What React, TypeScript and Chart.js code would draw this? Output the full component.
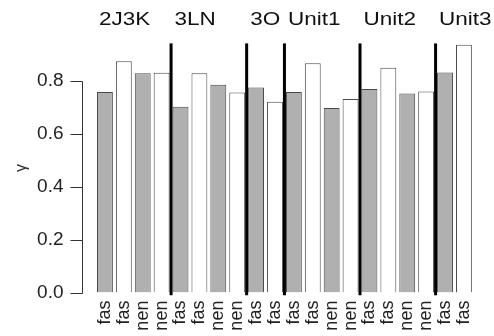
import React, { useEffect, useRef } from 'react';
import { Chart, registerables } from 'chart.js';

Chart.register(...registerables);

// ---- data ----
const categories = [
  'fas', 'fas', 'nen', 'nen',
  'fas', 'fas', 'nen', 'nen',
  'fas', 'fas',
  'fas', 'fas', 'nen', 'nen',
  'fas', 'fas', 'nen', 'nen',
  'fas', 'fas',
];
const gammaValues = [
  0.757, 0.873, 0.827, 0.829,
  0.701, 0.827, 0.784, 0.755,
  0.774, 0.720,
  0.757, 0.865, 0.696, 0.730,
  0.768, 0.848, 0.751, 0.759,
  0.830, 0.935,
];
const groupNames = ['2J3K', '3LN', '3O', 'Unit1', 'Unit2', 'Unit3'];
const groupSizes = [4, 4, 2, 4, 4, 2];
const yTicks = [0, 0.2, 0.4, 0.6, 0.8];
const yAxisTitle = 'γ';

const FONT = "'Liberation Sans', Arial, Helvetica, sans-serif";
const GRAY = '#b0b0b0';
const WHITE = '#ffffff';

export default function App() {
  const ref = useRef<HTMLCanvasElement>(null);

  useEffect(() => {
    document.body.style.margin = '0';
    const canvas = ref.current!;

    const decorPlugin = {
      id: 'decor',
      afterDatasetsDraw(chart: any) {
        const { ctx, chartArea, scales } = chart;
        const x = scales.x;
        const y = scales.y;
        const meta = chart.getDatasetMeta(0);
        ctx.save();
        // R-style y axis line + ticks
        const axX = Math.round(chartArea.left - 14) + 0.5;
        ctx.strokeStyle = '#333';
        ctx.lineWidth = 1;
        ctx.beginPath();
        ctx.moveTo(axX, Math.round(y.getPixelForValue(yTicks[0])) + 0.5);
        ctx.lineTo(axX, Math.round(y.getPixelForValue(yTicks[yTicks.length - 1])) + 0.5);
        yTicks.forEach((t) => {
          const py = Math.round(y.getPixelForValue(t)) + 0.5;
          ctx.moveTo(axX, py);
          ctx.lineTo(axX - 12, py);
        });
        ctx.stroke();

        // group separators and names
        let idx = 0;
        groupSizes.forEach((n, g) => {
          if (g > 0) {
            const sx = (x.getPixelForValue(idx - 1) + x.getPixelForValue(idx)) / 2;
            const top = chartArea.top;
            const bottom = y.getPixelForValue(-0.01);
            ctx.fillStyle = '#000';
            ctx.fillRect(sx - 1.5, top, 3, bottom - top);
          }
          const bar = meta.data[idx];
          const left = bar.x - bar.width / 2 + 2;
          ctx.save();
          ctx.translate(left, 25);
          ctx.scale(1.25, 1);
          ctx.font = `18px ${FONT}`;
          ctx.fillStyle = '#111';
          ctx.textAlign = 'left';
          ctx.textBaseline = 'alphabetic';
          ctx.fillText(groupNames[g], 0, 0);
          ctx.restore();
          idx += n;
        });
        ctx.restore();
      },
    };

    const chart = new Chart(canvas, {
      type: 'bar',
      data: {
        labels: categories,
        datasets: [
          {
            data: gammaValues,
            backgroundColor: gammaValues.map((_, i) => (i % 2 === 0 ? GRAY : WHITE)),
            borderColor: '#4a4a4a',
            borderWidth: 1,
            barPercentage: 0.84,
            categoryPercentage: 1,
          },
        ],
      },
      options: {
        responsive: false,
        animation: false,
        devicePixelRatio: 1,
        layout: { padding: { top: 26, right: 19, bottom: 0, left: 0 } },
        plugins: { legend: { display: false }, tooltip: { enabled: false } },
        scales: {
          x: {
            grid: { display: false, drawTicks: false },
            border: { display: false },
            ticks: {
              autoSkip: false,
              minRotation: 90,
              maxRotation: 90,
              padding: 8,
              color: '#222',
              font: { family: FONT, size: 18 },
            },
            afterFit(scale: any) {
              scale.height = 41;
            },
          },
          y: {
            min: 0,
            max: 0.94,
            grid: { display: false, drawTicks: false },
            border: { display: false },
            ticks: {
              stepSize: 0.2,
              includeBounds: false,
              padding: 32,
              color: '#222',
              font: { family: FONT, size: 19 },
              callback: (v: any) => Number(v).toFixed(1),
            },
            title: {
              display: true,
              text: yAxisTitle,
              color: '#333',
              font: { family: FONT, size: 16 },
              padding: { top: 12, bottom: 0 },
            },
            afterFit(scale: any) {
              scale.width = 95.5;
            },
          },
        },
      },
      plugins: [decorPlugin],
    });

    return () => chart.destroy();
  }, []);

  return (
    <div style={{ width: 494, height: 336 }}>
      <canvas ref={ref} width={494} height={336} style={{ display: 'block' }} />
    </div>
  );
}
